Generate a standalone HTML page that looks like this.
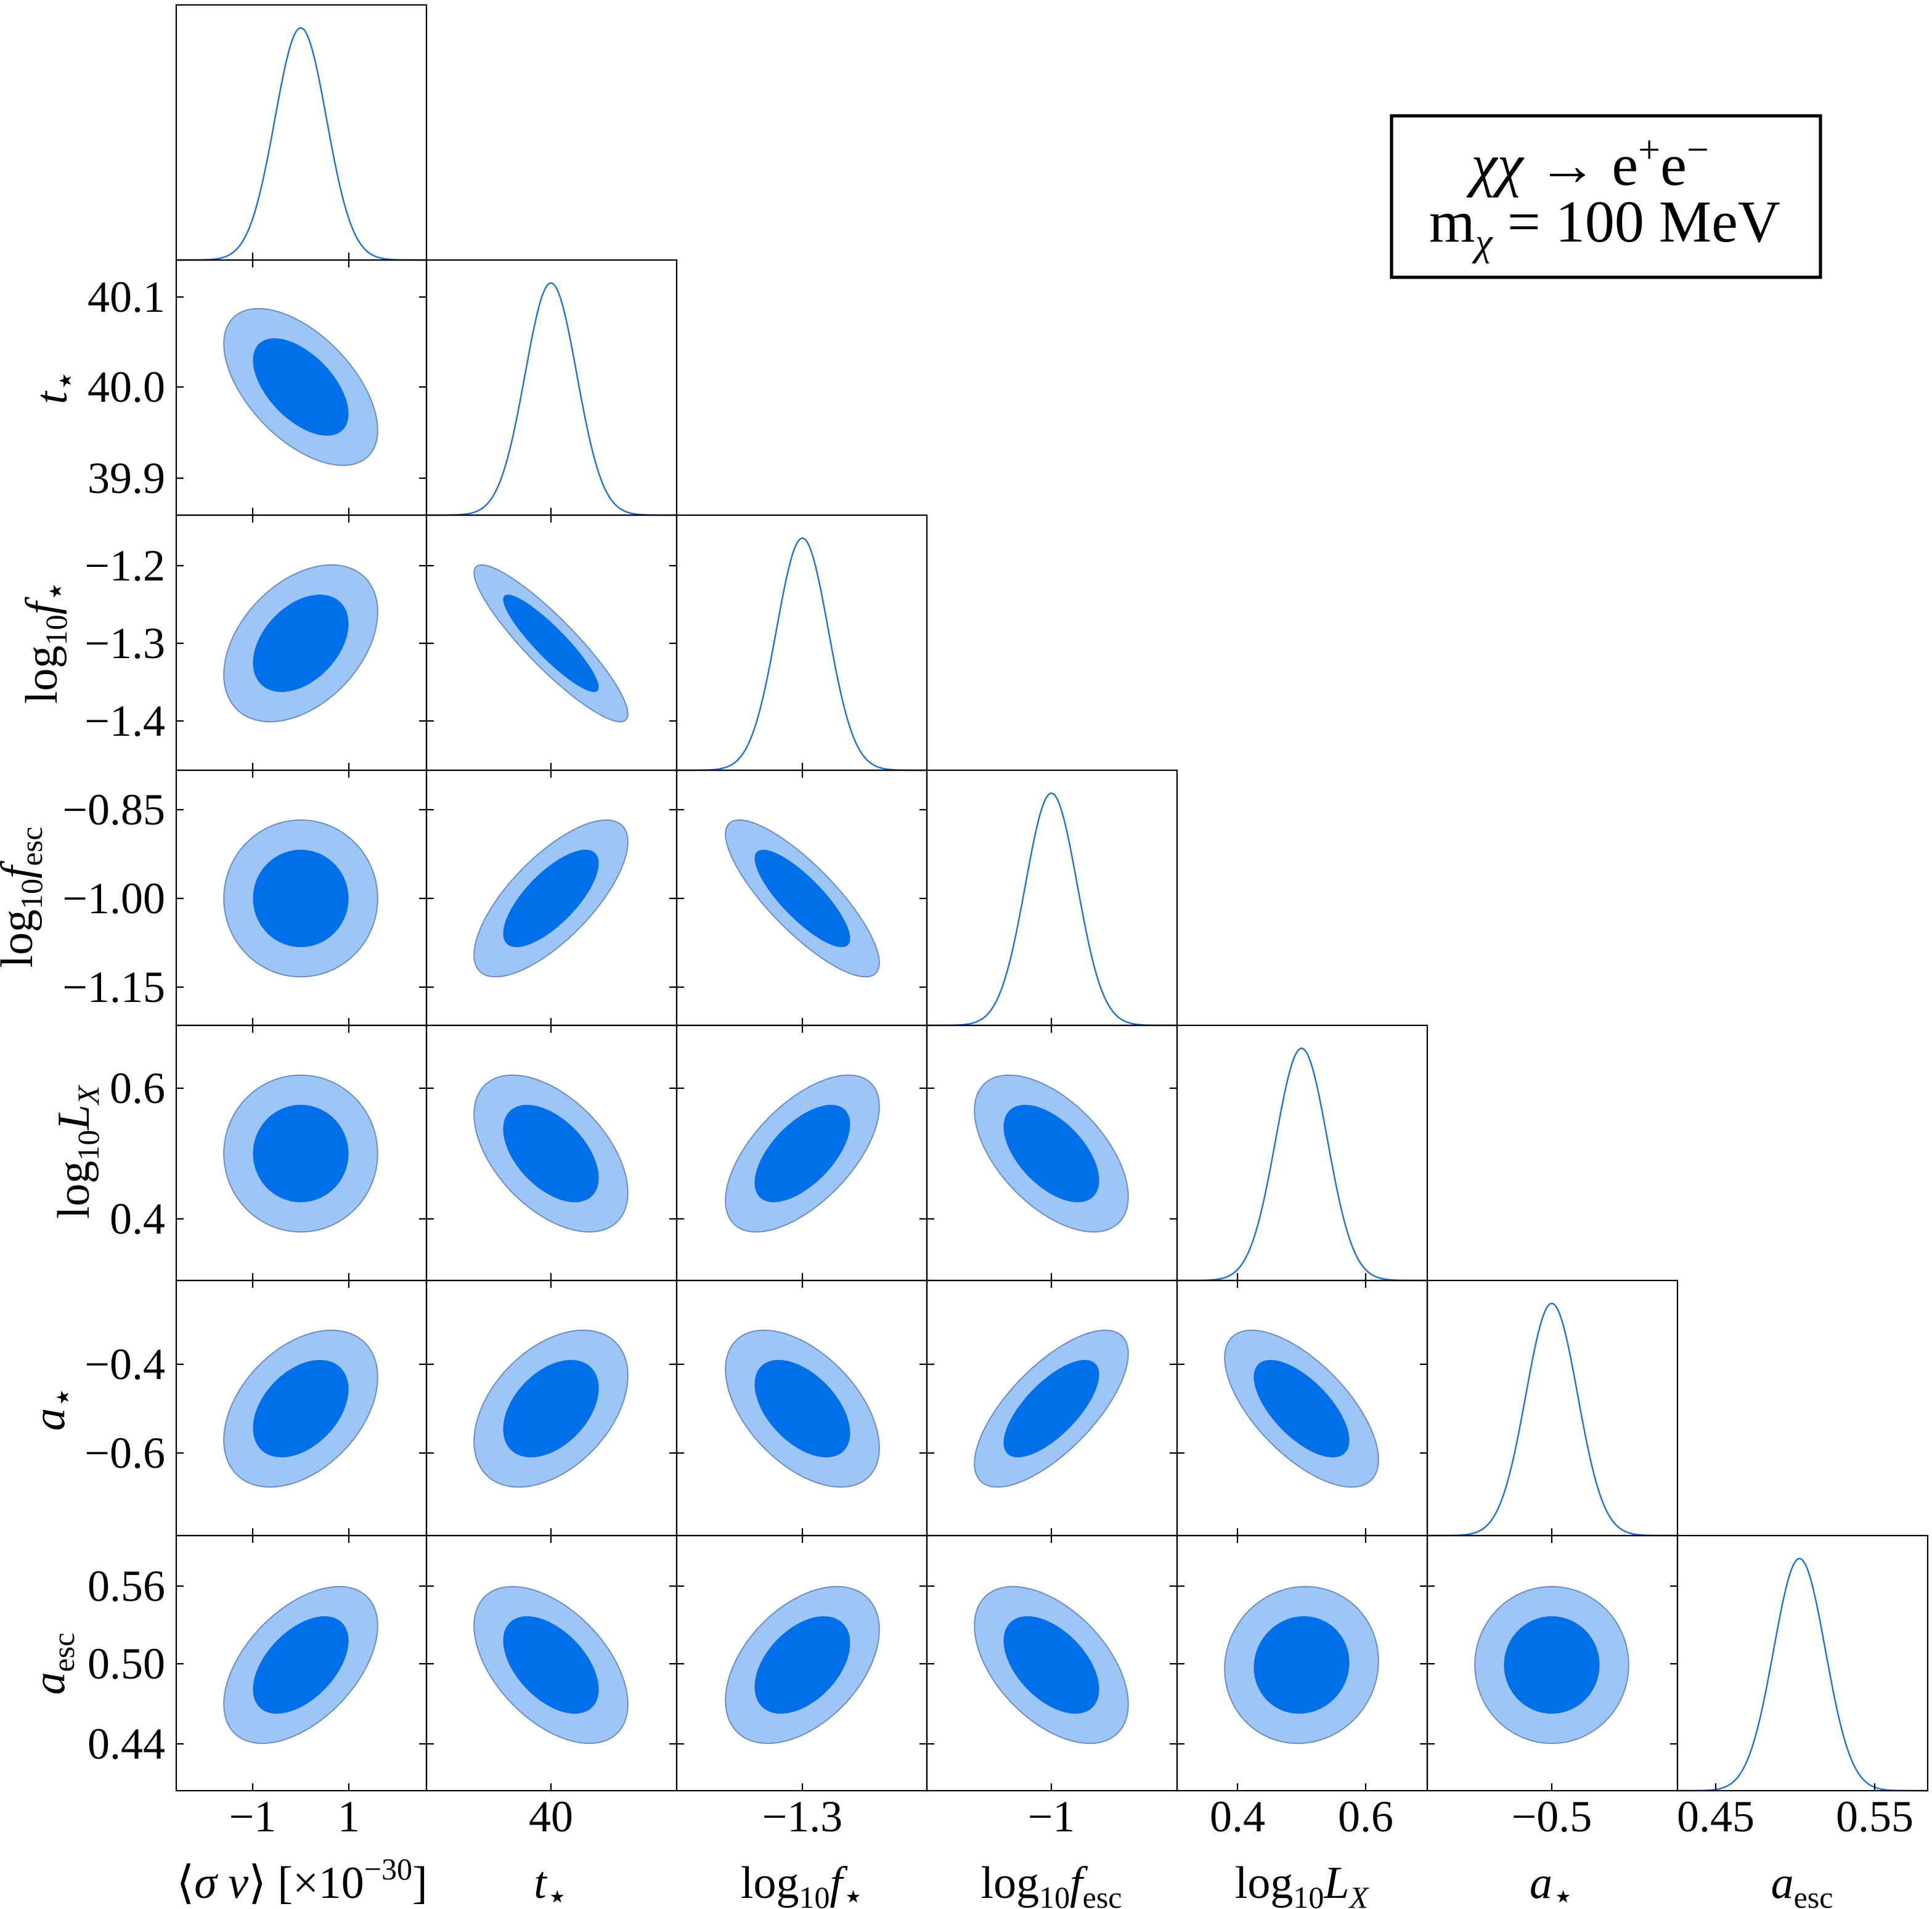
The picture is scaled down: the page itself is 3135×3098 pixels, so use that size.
<!DOCTYPE html>
<html><head><meta charset="utf-8"><style>
html,body{margin:0;padding:0;background:#fff}
svg{display:block}
text{font-family:"Liberation Serif","DejaVu Serif",serif;fill:#000}
</style></head><body>
<svg id="s" width="3135" height="3098" viewBox="0 0 1567.5 1549" xmlns="http://www.w3.org/2000/svg">
<g id="plots"></g>
<g id="frames" fill="none" stroke="#000" stroke-width="1.1"></g>
<g font-size="36" text-anchor="middle">
<text x="205" y="1486">−1</text><text x="283" y="1486">1</text>
<text x="447" y="1486">40</text>
<text x="651" y="1486">−1.3</text>
<text x="853" y="1486">−1</text>
<text x="1004" y="1486">0.4</text><text x="1108" y="1486">0.6</text>
<text x="1259" y="1486">−0.5</text>
<text x="1392" y="1486">0.45</text><text x="1521" y="1486">0.55</text>
</g>
<g font-size="36" text-anchor="end">
<text x="134" y="253">40.1</text><text x="134" y="326">40.0</text><text x="134" y="400">39.9</text>
<text x="134" y="471">−1.2</text><text x="134" y="534">−1.3</text><text x="134" y="597">−1.4</text>
<text x="134" y="669">−0.85</text><text x="134" y="741">−1.00</text><text x="134" y="813">−1.15</text>
<text x="134" y="895">0.6</text><text x="134" y="1001">0.4</text>
<text x="134" y="1119">−0.4</text><text x="134" y="1191">−0.6</text>
<text x="134" y="1299">0.56</text><text x="134" y="1362">0.50</text><text x="134" y="1427">0.44</text>
</g>
<g font-size="37" text-anchor="middle">
<text x="245" y="1540">⟨<tspan font-style="italic">σ</tspan> <tspan font-style="italic">v</tspan>⟩ [×10<tspan font-size="25" dy="-15">−30</tspan><tspan dy="15">]</tspan></text>
<text x="447" y="1540"><tspan font-style="italic">t</tspan><tspan font-size="28" dy="8">⋆</tspan></text>
<text x="651" y="1540">log<tspan font-size="25" dy="8">10</tspan><tspan dy="-8" font-style="italic">f</tspan><tspan font-size="28" dy="8">⋆</tspan></text>
<text x="853" y="1540">log<tspan font-size="25" dy="8">10</tspan><tspan dy="-8" font-style="italic">f</tspan><tspan font-size="25" dy="8">esc</tspan></text>
<text x="1056" y="1540">log<tspan font-size="25" dy="8">10</tspan><tspan dy="-8" font-style="italic">L</tspan><tspan font-size="25" dy="8" font-style="italic">X</tspan></text>
<text x="1259" y="1540"><tspan font-style="italic">a</tspan><tspan font-size="28" dy="8">⋆</tspan></text>
<text x="1462" y="1540"><tspan font-style="italic">a</tspan><tspan font-size="25" dy="8">esc</tspan></text>
</g>
<g font-size="37" text-anchor="middle">
<text transform="translate(54,314) rotate(-90)"><tspan font-style="italic">t</tspan><tspan font-size="28" dy="8">⋆</tspan></text>
<text transform="translate(46,521) rotate(-90)">log<tspan font-size="25" dy="8">10</tspan><tspan dy="-8" font-style="italic">f</tspan><tspan font-size="28" dy="8">⋆</tspan></text>
<text transform="translate(26,728) rotate(-90)">log<tspan font-size="25" dy="8">10</tspan><tspan dy="-8" font-style="italic">f</tspan><tspan font-size="25" dy="8">esc</tspan></text>
<text transform="translate(72,935) rotate(-90)">log<tspan font-size="25" dy="8">10</tspan><tspan dy="-8" font-style="italic">L</tspan><tspan font-size="25" dy="8" font-style="italic">X</tspan></text>
<text transform="translate(52,1143) rotate(-90)"><tspan font-style="italic">a</tspan><tspan font-size="28" dy="8">⋆</tspan></text>
<text transform="translate(52,1350) rotate(-90)"><tspan font-style="italic">a</tspan><tspan font-size="25" dy="8">esc</tspan></text>
</g>
<rect x="1129" y="94" width="348" height="131" fill="#fff" stroke="#000" stroke-width="2.6"/>
<text x="1290" y="150" font-size="48" text-anchor="middle"><tspan font-style="italic">χχ</tspan> → e<tspan font-size="32" dy="-18">+</tspan><tspan dy="18">e</tspan><tspan font-size="32" dy="-18">−</tspan></text>
<text x="1302" y="196" font-size="48" text-anchor="middle">m<tspan font-size="32" dy="11" font-style="italic">χ</tspan><tspan dy="-11"> = 100 MeV</tspan></text>
<script>
(function(){
var NS="http://www.w3.org/2000/svg";
var plots=document.getElementById("plots"),frames=document.getElementById("frames");
var X0=143,W=203,Y0=4,H=207;
var cx=[244,447,651,853,1056,1259,1460];
var cy=[null,314,522,729,936,1143,1351];
var xt=[[205,283],[447],[651],[853],[1004,1108],[1259],[1392,1521]];
var yt=[null,[241,314,388],[459,522,585],[657,729,801],[883,989],[1107,1179],[1287,1350,1415]];
var rho={"1,0":-0.55,"2,0":0.4,"2,1":-0.9,"3,0":0,"3,1":0.72,"3,2":-0.82,
"4,0":0,"4,1":-0.5,"4,2":0.6,"4,3":-0.55,"5,0":0.4,"5,1":0.42,"5,2":-0.5,"5,3":0.7,"5,4":-0.65,
"6,0":0.5,"6,1":-0.5,"6,2":0.45,"6,3":-0.5,"6,4":0.05,"6,5":0};
function el(t,a,p){var e=document.createElementNS(NS,t);for(var k in a)e.setAttribute(k,a[k]);(p||plots).appendChild(e);return e;}
function ell(x0,y0,sx,sy,r,k){var d="";var q=Math.sqrt(1-r*r);for(var i=0;i<=120;i++){var t=i/120*2*Math.PI;var u=k*Math.cos(t),v=k*Math.sin(t);var x=x0+sx*u,y=y0-sy*(r*u+q*v);d+=(i?"L":"M")+x.toFixed(2)+","+y.toFixed(2);}return d+"Z";}
var T=6;
for(var r=0;r<7;r++){for(var c=0;c<=r;c++){
 var x=X0+c*W,y=Y0+r*H;
 el("rect",{x:x,y:y,width:W,height:H},frames);
 var d="";
 xt[c].forEach(function(t){d+="M"+t+","+(y+H)+"v"+(-T);if(r!=c)d+="M"+t+","+y+"v"+T;});
 if(r!=c){yt[r].forEach(function(t){d+="M"+x+","+t+"h"+T+"M"+(x+W)+","+t+"h"+(-T);});}
 el("path",{d:d},frames);
 if(r==c){
  var s=21,pd="";
  for(var i=0;i<=200;i++){var px=x+i*W/200;var g=Math.exp(-0.5*Math.pow((px-cx[c])/s,2));var py=y+H-0.91*H*g;pd+=(i?"L":"M")+px.toFixed(2)+","+py.toFixed(2);}
  el("path",{d:pd,fill:"none",stroke:"#1a6fd8","stroke-width":1.2});
 } else {
  var rr=rho[r+","+c];
  el("path",{d:ell(cx[c],cy[r],25.5,26,rr,2.447),fill:"#9dc5f5",stroke:"#6c8cc4","stroke-width":1});
  el("path",{d:ell(cx[c],cy[r],25.5,26,rr,1.52),fill:"#006fe9"});
 }
}}
})();
</script>
</svg>
</body></html>
